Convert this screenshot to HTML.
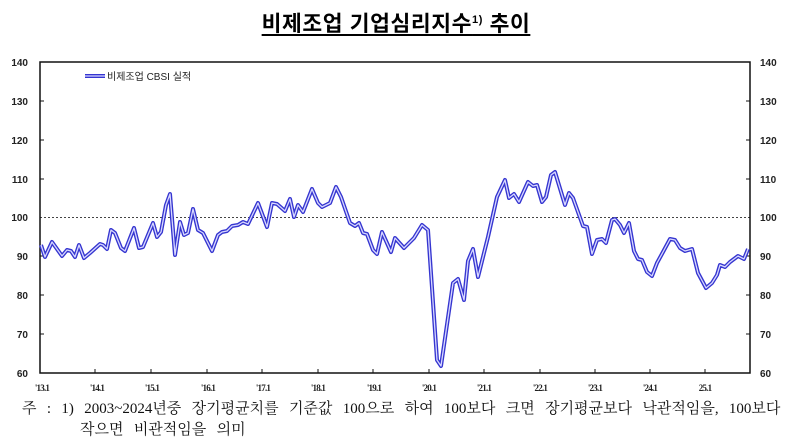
<!DOCTYPE html>
<html><head><meta charset="utf-8"><style>
body{margin:0;background:#fff;width:792px;height:447px;overflow:hidden;position:relative;font-family:"Liberation Sans","Noto Sans CJK KR",sans-serif}
.t{position:absolute;left:0;width:792px;top:7px;text-align:center;font-size:21.5px;font-weight:bold;letter-spacing:0.6px}
.t span{text-decoration:underline;text-underline-offset:3px}
.fn{position:absolute;left:22px;font-family:"Liberation Serif","Noto Serif CJK SC","Noto Sans CJK KR",serif;font-size:15px;color:#111;white-space:nowrap;word-spacing:6.6px}
</style></head><body>
<div class="t"><span>비제조업 기업심리지수<sup style="font-size:11px">1)</sup> 추이</span></div>
<svg width="792" height="447" style="position:absolute;left:0;top:0">
<g font-family="Liberation Sans, sans-serif" font-size="10" font-weight="bold" fill="#222">
<text x="28" y="66" text-anchor="end">140</text><text x="28" y="105" text-anchor="end">130</text><text x="28" y="144" text-anchor="end">120</text><text x="28" y="183" text-anchor="end">110</text><text x="28" y="221" text-anchor="end">100</text><text x="28" y="260" text-anchor="end">90</text><text x="28" y="299" text-anchor="end">80</text><text x="28" y="338" text-anchor="end">70</text><text x="28" y="377" text-anchor="end">60</text>
<text x="760" y="66">140</text><text x="760" y="105">130</text><text x="760" y="144">120</text><text x="760" y="183">110</text><text x="760" y="221">100</text><text x="760" y="260">90</text><text x="760" y="299">80</text><text x="760" y="338">70</text><text x="760" y="377">60</text>
</g>
<g font-family="Liberation Serif, serif" font-size="9" font-weight="bold" fill="#222" text-anchor="middle" letter-spacing="-0.8">
<text x="42" y="391">'13.1</text><text x="97" y="391">'14.1</text><text x="152" y="391">'15.1</text><text x="208" y="391">'16.1</text><text x="263" y="391">'17.1</text><text x="318" y="391">'18.1</text><text x="374" y="391">'19.1</text><text x="429" y="391">'20.1</text><text x="484" y="391">'21.1</text><text x="540" y="391">'22.1</text><text x="595" y="391">'23.1</text><text x="650" y="391">'24.1</text><text x="705" y="391">25.1</text>
</g>
<line x1="40" y1="217.5" x2="750" y2="217.5" stroke="#444" stroke-width="1" stroke-dasharray="2,2"/>
<rect x="40" y="62" width="710" height="311" fill="none" stroke="#111" stroke-width="1.5"/>
<g stroke="#111" stroke-width="1">
<line x1="95" y1="373" x2="95" y2="369"/><line x1="151" y1="373" x2="151" y2="369"/><line x1="207" y1="373" x2="207" y2="369"/><line x1="262" y1="373" x2="262" y2="369"/><line x1="318" y1="373" x2="318" y2="369"/><line x1="373" y1="373" x2="373" y2="369"/><line x1="429" y1="373" x2="429" y2="369"/><line x1="484" y1="373" x2="484" y2="369"/><line x1="540" y1="373" x2="540" y2="369"/><line x1="595" y1="373" x2="595" y2="369"/><line x1="650" y1="373" x2="650" y2="369"/><line x1="705" y1="373" x2="705" y2="369"/>
<line x1="40" y1="101" x2="44" y2="101"/><line x1="40" y1="140" x2="44" y2="140"/><line x1="40" y1="179" x2="44" y2="179"/><line x1="40" y1="256" x2="44" y2="256"/><line x1="40" y1="295" x2="44" y2="295"/><line x1="40" y1="334" x2="44" y2="334"/>
<line x1="746" y1="101" x2="750" y2="101"/><line x1="746" y1="140" x2="750" y2="140"/><line x1="746" y1="179" x2="750" y2="179"/><line x1="746" y1="256" x2="750" y2="256"/><line x1="746" y1="295" x2="750" y2="295"/><line x1="746" y1="334" x2="750" y2="334"/>
</g>
<polyline id="p" fill="none" stroke="#3535d0" stroke-width="4" stroke-linejoin="round" points=""/>
<polyline id="q" fill="none" stroke="#d8d8ff" stroke-width="1.3" stroke-linejoin="round" points=""/>
<line x1="85" y1="76" x2="105" y2="76" stroke="#3535d0" stroke-width="4"/>
<line x1="85" y1="76" x2="105" y2="76" stroke="#d8d8ff" stroke-width="1.3"/>
<text x="107" y="80" font-size="10" fill="#222" font-family="Liberation Sans, Noto Sans CJK KR, sans-serif">비제조업 CBSI 실적</text>
</svg>
<script>
var pts="41,245 45,257 52,242 62,256 67,250 71,251 75,257 79,245 84,258 90,253 100,244 103,245 107,249 111,230 115,233 121,248 125,251 134,228 139,248 143,247 153,223 157,237 161,232 166,205 170,194 175,255 180,222 184,235 188,233 193,209 198,230 203,233 212,251 218,235 222,232 227,231 232,226 238,225 243,222 248,224 258,203 267,227 272,203 277,204 285,211 290,199 294,217 298,205 303,212 312,189 318,203 322,207 330,203 336,187 341,197 350,223 355,226 359,223 363,233 367,234 373,250 377,254 382,232 391,252 395,238 404,248 414,238 422,225 428,230 437,360 441,366 453,283 458,279 464,300 468,261 473,249 478,277 488,237 497,197 505,180 509,198 514,194 519,202 528,182 533,186 537,185 542,202 546,197 551,175 555,172 565,205 569,193 573,198 583,226 587,227 592,254 597,240 602,239 606,243 612,220 615,219 620,225 624,233 629,223 634,251 638,259 642,260 647,272 652,276 657,263 663,252 670,239 675,240 680,248 685,251 692,249 698,273 706,288 712,283 717,275 720,265 725,267 730,262 738,256 744,259 748,249";
document.getElementById('p').setAttribute('points',pts);
document.getElementById('q').setAttribute('points',pts);
</script>
<div class="fn" style="top:397px">주 : 1) 2003~2024년중 장기평균치를 기준값 100으로 하여 100보다 크면 장기평균보다 낙관적임을, 100보다</div>
<div class="fn" style="top:418px;left:80px">작으면 비관적임을 의미</div>
</body></html>
